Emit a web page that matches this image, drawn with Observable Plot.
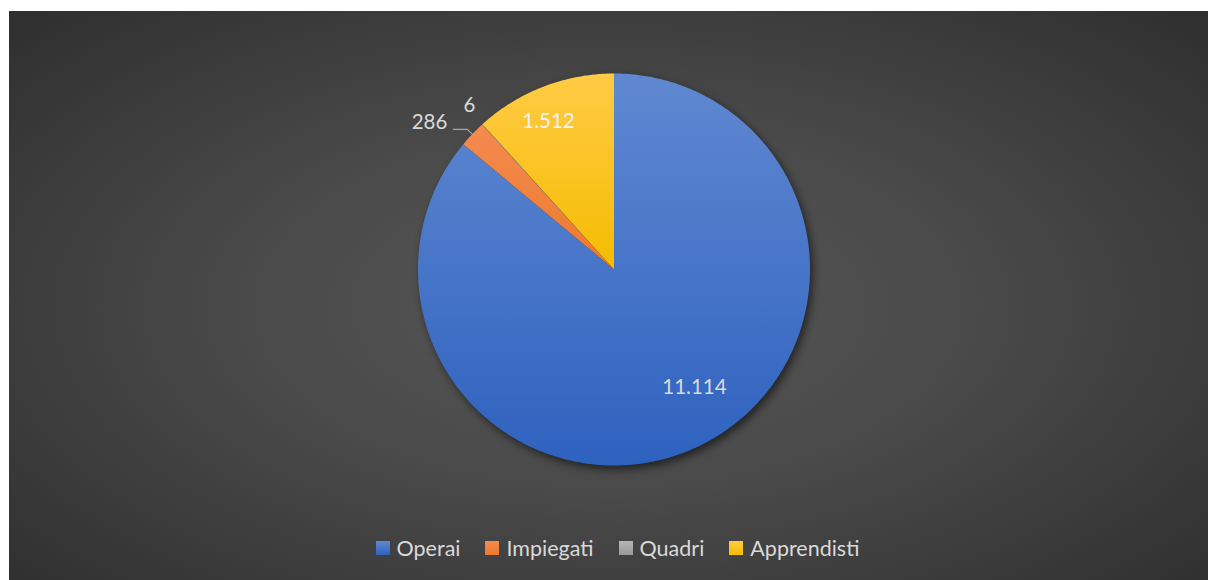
<!DOCTYPE html>
<html>
<head>
<meta charset="utf-8">
<script src="https://cdn.jsdelivr.net/npm/d3@7"></script>
<script src="https://cdn.jsdelivr.net/npm/@observablehq/plot@0.6"></script>
<style>
  html, body { margin: 0; padding: 0; background: #fff; }
  #chart {
    position: absolute; left: 9px; top: 11px; width: 1199px; height: 569px;
    background: radial-gradient(ellipse 75% 80% at 50% 52%, #575757 0%, #4a4a4a 40%, #2b2b2b 100%);
    font-family: Lato, "Open Sans", sans-serif;
  }
  #chart svg { display: block; background: transparent; }
  .pie-shadow { filter: blur(4px); }
  #legend {
    display: flex; justify-content: center; align-items: center; gap: 25px;
    height: 40px; padding-left: 18px; margin-top: -3px;
    color: #d9d9d9; font-size: 21.5px;
  }
  #legend .item { display: flex; align-items: center; gap: 7px; }
  #legend .sw { width: 14px; height: 14px; display: inline-block; }
</style>
</head>
<body>
<div id="chart"></div>
<script>
const categories = ["Operai", "Impiegati", "Quadri", "Apprendisti"];
const values = [11114, 286, 6, 1512];
const valueLabels = ["11.114", "286", "6", "1.512"];
const colors = ["#4472c4", "#ed7d31", "#a5a5a5", "#ffc000"];
const gradientStops = [["#6088d1", "#2e62bf"], ["#f48a4e", "#ec7a2e"], ["#b5b5b5", "#9a9a9a"], ["#ffcb45", "#f5bc00"]];

const W = 1199, H = 520, R = 196, CX = 604.5, CY = 258;

const data = categories.map((c, i) => ({category: c, value: values[i], label: valueLabels[i], i}));
const arcs = d3.pie().sort(null).value(d => d.value)(data);

function slicePoints(a) {
  const pts = [{x: 0, y: 0}];
  const n = Math.max(2, Math.ceil((a.endAngle - a.startAngle) / (Math.PI / 360)));
  for (let k = 0; k <= n; k++) {
    const t = a.startAngle + (a.endAngle - a.startAngle) * k / n;
    pts.push({x: Math.sin(t), y: Math.cos(t)});
  }
  return pts;
}
const circle = d3.range(0, 721).map(k => ({x: Math.sin(k * Math.PI / 360), y: Math.cos(k * Math.PI / 360)}));

function mid(a) { return (a.startAngle + a.endAngle) / 2; }
function polar(t, r) { return {x: Math.sin(t) * r, y: Math.cos(t) * r}; }

const labelPos = arcs.map(a => {
  const t = mid(a);
  const r = a.data.i === 0 ? 0.75 : a.data.i === 3 ? 0.83 : 1.12;
  return {...polar(t, r), label: a.data.label, i: a.data.i};
});

const imp = arcs[1];
const leader = [polar(mid(imp), 1.0), polar(mid(imp), 1.035)];
leader.push({x: leader[1].x - 14 / R, y: leader[1].y});

const marks = [
  Plot.line(circle, {x: "x", y: "y", fill: "#000", fillOpacity: 0.55, stroke: "none", dx: 3, dy: 4, curve: "linear-closed", className: "pie-shadow"})
];
arcs.forEach((a, i) => {
  marks.push(Plot.line(slicePoints(a), {x: "x", y: "y", fill: `url(#grad${i})`, stroke: "none", curve: "linear-closed"}));
});
marks.push(Plot.line(leader, {x: "x", y: "y", stroke: "#a6a6a6", strokeWidth: 1.2}));
const textStyle = {x: "x", y: "y", text: "label", fill: "#d9d9d9", fontSize: 20.5, fontFamily: "Lato, 'Open Sans', sans-serif"};
marks.push(Plot.text(labelPos.filter(d => d.i === 0), {...textStyle, dx: 18, dy: -15}));
marks.push(Plot.text(labelPos.filter(d => d.i === 1), {...textStyle, textAnchor: "end", dx: -8, dy: 5}));
marks.push(Plot.text(labelPos.filter(d => d.i === 2), {...textStyle, dx: 3, dy: -1}));
marks.push(Plot.text(labelPos.filter(d => d.i === 3), {...textStyle, fill: "#f2f2f2", dx: -7, dy: 4}));

const svg = Plot.plot({
  width: W, height: H, margin: 0,
  x: {domain: [-CX / R, (W - CX) / R], axis: null},
  y: {domain: [-(H - CY) / R, CY / R], axis: null},
  style: {background: "transparent", overflow: "visible"},
  marks
});

const defs = d3.select(svg).insert("defs", ":first-child");
gradientStops.forEach((s, i) => {
  const g = defs.append("linearGradient").attr("id", `grad${i}`).attr("x1", 0).attr("y1", 0).attr("x2", 0).attr("y2", 1);
  g.append("stop").attr("offset", "0%").attr("stop-color", s[0]);
  g.append("stop").attr("offset", "100%").attr("stop-color", s[1]);
});

const chart = document.getElementById("chart");
chart.appendChild(svg);

const legend = document.createElement("div");
legend.id = "legend";
categories.forEach((c, i) => {
  const item = document.createElement("span");
  item.className = "item";
  const sw = document.createElement("span");
  sw.className = "sw";
  sw.style.background = `linear-gradient(${gradientStops[i][0]}, ${gradientStops[i][1]})`;
  const tx = document.createElement("span");
  tx.textContent = c;
  item.appendChild(sw); item.appendChild(tx);
  legend.appendChild(item);
});
chart.appendChild(legend);
</script>
</body>
</html>
